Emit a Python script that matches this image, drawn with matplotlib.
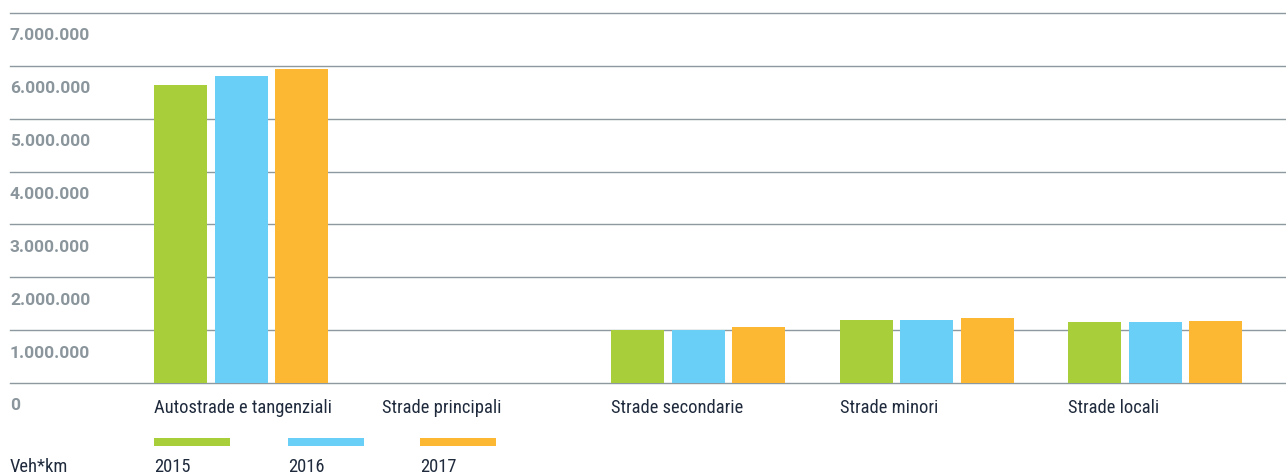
import matplotlib
matplotlib.use("Agg")
import matplotlib.pyplot as plt
from matplotlib.patches import Rectangle
from matplotlib.transforms import offset_copy, blended_transform_factory
from matplotlib import font_manager

categories = ["Autostrade e tangenziali", "Strade principali", "Strade secondarie",
              "Strade minori", "Strade locali"]
years = ["2015", "2016", "2017"]
v2015 = [5630000, 0, 1000000, 1190000, 1155000]
v2016 = [5810000, 0, 1000000, 1190000, 1155000]
v2017 = [5950000, 0, 1060000, 1230000, 1170000]
series = [v2015, v2016, v2017]
colors = ["#a8ce3a", "#6acff6", "#fdb833"]
yticks = [0, 1000000, 2000000, 3000000, 4000000, 5000000, 6000000, 7000000]
ytick_labels = ["0", "1.000.000", "2.000.000", "3.000.000", "4.000.000",
                "5.000.000", "6.000.000", "7.000.000"]
unit_label = "Veh*km"

names = {f.name for f in font_manager.fontManager.ttflist}
cond = 'Roboto Condensed' if 'Roboto Condensed' in names else 'Roboto'
cond_size = 13.3 if cond == 'Roboto Condensed' else 12
plt.rcParams['font.family'] = ['Roboto', 'DejaVu Sans']

W, H = 1286, 475
dpi = 100
fig = plt.figure(figsize=(W / dpi, H / dpi), dpi=dpi)

ax_left, ax_right = 10, 1286
y0_px, y7_px = 383, 13
px_per_unit = (y0_px - y7_px) / 7.0
top_px = 5
ymax = 7000000 + (y7_px - top_px) / px_per_unit * 1e6
ax = fig.add_axes([ax_left / W, (H - y0_px) / H, (ax_right - ax_left) / W,
                   (y0_px - top_px) / H])

stride_px = 228.5
bar_w = 53 / stride_px
offset = 60.5 / stride_px
center0_px = 154 + 87
ax.set_xlim(-(center0_px - ax_left) / stride_px, (ax_right - center0_px) / stride_px)
ax.set_ylim(0, ymax)

for k, vals in enumerate(series):
    xs = [i + (k - 1) * offset for i in range(len(categories))]
    ax.bar(xs, vals, width=bar_w, color=colors[k], zorder=3, linewidth=0)

grid_color = "#8e999f"
for t in yticks:
    ax.axhline(t, color=grid_color, linewidth=1.0, zorder=2, clip_on=False)

for s in ax.spines.values():
    s.set_visible(False)
ax.set_xticks([])
ax.set_yticks([])

trans_y = blended_transform_factory(ax.transAxes, ax.transData)
for t, lab in zip(yticks, ytick_labels):
    tr = offset_copy(trans_y, fig=fig, x=0, y=-23 * 72 / dpi, units='points')
    ax.text(0, t, lab, transform=tr, ha='left', va='center', fontsize=12.5,
            fontweight='bold', color="#8a959c")

trans_x = blended_transform_factory(ax.transData, ax.transData)
text_color = "#1f2a3c"
for i, c in enumerate(categories):
    tr = offset_copy(trans_x, fig=fig, x=0, y=-25 * 72 / dpi, units='points')
    ax.text(i - offset - bar_w / 2, 0, c, transform=tr, ha='left', va='center',
            fontsize=cond_size, color=text_color, family=[cond, 'DejaVu Sans'])

leg_x = [154, 288, 420]
for k, yr in enumerate(years):
    fig.add_artist(Rectangle((leg_x[k] / W, (H - 446) / H), 76 / W, 8 / H,
                             transform=fig.transFigure, color=colors[k], linewidth=0))
    fig.text(leg_x[k] / W, (H - 467) / H, yr, ha='left', va='center', fontsize=cond_size,
             color=text_color, family=[cond, 'DejaVu Sans'])
fig.text(10 / W, (H - 467) / H, unit_label, ha='left', va='center', fontsize=cond_size,
         color=text_color, family=[cond, 'DejaVu Sans'])

fig.savefig("out.png", dpi=dpi)
